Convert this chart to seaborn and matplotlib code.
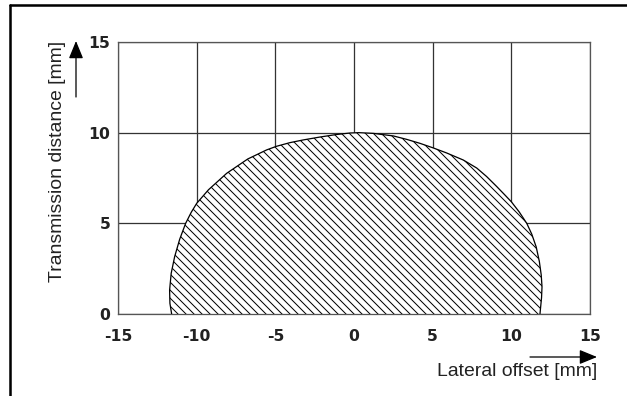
import matplotlib
matplotlib.use("Agg")
import matplotlib.pyplot as plt
from matplotlib.patches import FancyArrowPatch
from matplotlib.lines import Line2D
import seaborn as sns
import pandas as pd

# Boundary of the detection zone, left bottom -> top -> right bottom
boundary_x = [-11.59, -11.70, -11.72, -11.62, -11.40, -11.08, -10.70, -10.35, -10.00, -9.25,
              -8.09, -6.75, -5.55, -4.92, -4.07, -3.22, -2.16, -1.10, -0.25, 0.30,
              1.23, 2.50, 3.35, 4.20, 5.00, 5.89, 6.95, 7.80, 8.43, 9.07,
              9.55, 10.00, 10.50, 10.98, 11.30, 11.58, 11.78, 11.90, 11.95, 11.92,
              11.87, 11.82]
boundary_y = [0.00, 0.59, 1.32, 2.24, 3.16, 4.12, 5.00, 5.60, 6.10, 6.85,
              7.76, 8.55, 9.05, 9.25, 9.45, 9.60, 9.76, 9.90, 9.98, 10.00,
              9.96, 9.82, 9.63, 9.41, 9.17, 8.88, 8.49, 8.05, 7.58, 7.03,
              6.60, 6.19, 5.63, 5.00, 4.40, 3.70, 2.90, 2.15, 1.50, 0.90,
              0.45, 0.00]

x_ticks = [-15, -10, -5, 0, 5, 10, 15]
x_ticklabels = ["-15", "-10", "-5", "0", "5", "10", "15"]
y_ticks = [0, 5, 10, 15]
y_ticklabels = ["0", "5", "10", "15"]
x_label = "Lateral offset [mm]"
y_label = "Transmission distance [mm]"

df = pd.DataFrame({"x": boundary_x, "y": boundary_y})

sns.set_theme(style="white")
plt.rcParams["font.family"] = ["Liberation Sans", "DejaVu Sans"]
plt.rcParams["hatch.linewidth"] = 0.75

DPI = 96
BS = chr(92)
fig = plt.figure(figsize=(627 / DPI, 396 / DPI), dpi=DPI)
ax = fig.add_axes([118 / 627, 1 - 314 / 396, (590 - 118) / 627, (314 - 42) / 396])

ax.fill(df["x"], df["y"], facecolor="white", edgecolor="black", hatch=BS * 4,
        linewidth=0, zorder=2)
sns.lineplot(data=df, x="x", y="y", sort=False, estimator=None, color="black",
             linewidth=0.95, ax=ax, zorder=3, solid_joinstyle="round")

ax.set_xlim(-15, 15)
ax.set_ylim(0, 15)
ax.set_xticks(x_ticks)
ax.set_xticklabels(x_ticklabels)
ax.set_yticks(y_ticks)
ax.set_yticklabels(y_ticklabels)
ax.grid(True, color="#333333", linewidth=0.95, zorder=0)
ax.set_axisbelow(True)
for s in ax.spines.values():
    s.set_color("#555555")
    s.set_linewidth(0.95)
ax.tick_params(axis="both", length=0, colors="#222222")
ax.tick_params(axis="x", pad=11.3)
ax.tick_params(axis="y", pad=5.6)
for lab in ax.get_xticklabels() + ax.get_yticklabels():
    lab.set_fontweight("bold")
    lab.set_family(["DejaVu Sans"])
    lab.set_fontsize(11.7)
ax.set_xlabel("")
ax.set_ylabel("")

# axis labels with arrows
fig.text(57 / 627, 1 - 161 / 396, y_label, rotation=90, ha="center", va="center",
         fontsize=14.5, color="#222222")
fig.text(597 / 627, 1 - 372 / 396, x_label, ha="right", va="center",
         fontsize=14.5, color="#222222")
fig.add_artist(FancyArrowPatch(
    (76 / 627, 1 - 97 / 396), (76 / 627, 1 - 41 / 396), transform=fig.transFigure,
    arrowstyle="-|>,head_length=5.6,head_width=2.3", color="black", lw=0.95,
    shrinkA=0, shrinkB=0, mutation_scale=2))
fig.add_artist(FancyArrowPatch(
    (530 / 627, 1 - 357 / 396), (597 / 627, 1 - 357 / 396), transform=fig.transFigure,
    arrowstyle="-|>,head_length=5.6,head_width=2.3", color="black", lw=0.95,
    shrinkA=0, shrinkB=0, mutation_scale=2))

# frame lines around the figure (top and left)
fig.add_artist(Line2D([10 / 627, 1.01], [1 - 5 / 396, 1 - 5 / 396],
                      transform=fig.transFigure, color="black", lw=1.9))
fig.add_artist(Line2D([10 / 627, 10 / 627], [-0.01, 1 - 5 / 396],
                      transform=fig.transFigure, color="black", lw=1.9))

fig.savefig("out.png", dpi=DPI)
